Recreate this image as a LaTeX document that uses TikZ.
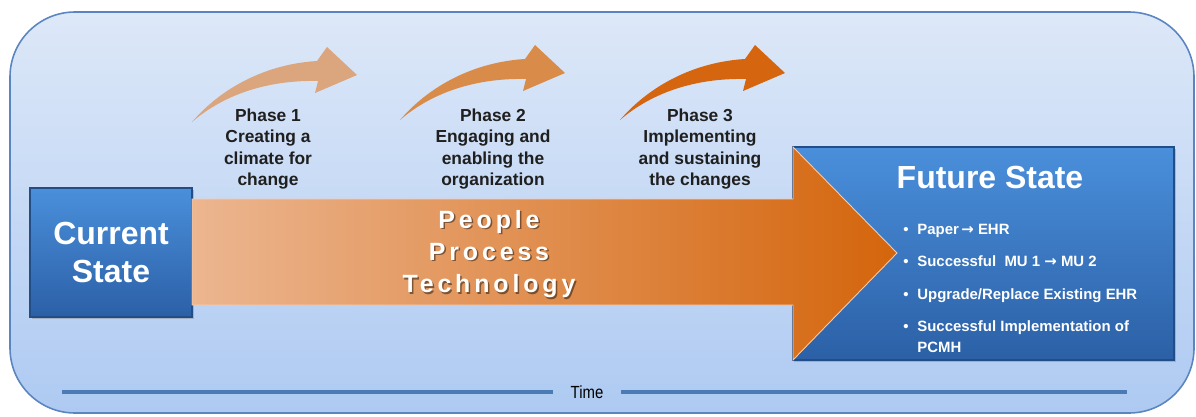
\documentclass[tikz,border=0pt]{standalone}
\usepackage{fontspec}
\setmainfont{Liberation Sans}
\newfontfamily\arrowfont{DejaVu Sans}
\usetikzlibrary{shadows}
\definecolor{bgtop}{HTML}{DDE8F8}
\definecolor{bgbottom}{HTML}{AECAF2}
\definecolor{bgline}{HTML}{5A85C0}
\definecolor{boxtop}{HTML}{4A8FDB}
\definecolor{boxbottom}{HTML}{2B60A6}
\definecolor{arrowleft}{HTML}{ECB690}
\definecolor{arrowright}{HTML}{D4650C}
\definecolor{phaseA}{HTML}{DBA57D}
\definecolor{phaseB}{HTML}{D98C4A}
\definecolor{phaseC}{HTML}{D5660F}
\definecolor{timeline}{HTML}{4C7AB4}
\tikzstyle{state} = [draw=boxbottom!80!black, line width=0.6, inner sep=0,
    top color=boxtop, bottom color=boxbottom, 
    drop shadow={opacity=.4, shadow xshift=1pt, shadow yshift=-1.2pt}]
\tikzstyle{statetext} = [text=white, align=center, inner sep=0,
    font=\bfseries\fontsize{18.2}{21.5}\selectfont]
\tikzstyle{phase} = [text=black!88, align=center, inner sep=0,
    font=\bfseries\fontsize{9.9}{12.2}\selectfont]
\tikzstyle{goals} = [text=white, anchor=base west, inner sep=0,
    font=\bfseries\fontsize{8.5}{11.9}\selectfont]
\tikzstyle{ppt} = [align=center, inner sep=0,
    font=\bfseries\addfontfeature{LetterSpace=15.5}\fontsize{14.2}{18.4}\selectfont]
% bold arrow between goals
\newcommand{\goalarrow}{{\arrowfont\bfseries →}}
% curved phase arrow, #1,#2 = tail point, #3 = colour
\newcommand{\phasearrow}[3]{%
  \begin{scope}[shift={(#1,#2)}]
    \fill[#3] (0,0) .. controls (30,-35) and (75,-58) .. (125,-61)
      -- (135,-75) -- (165,-47) -- (123,-29) -- (126,-41)
      .. controls (80,-42) and (35,-30) .. (0,0) -- cycle;
  \end{scope}}

\begin{document}
\begin{tikzpicture}[x=0.02cm, y=-0.02cm]
    \useasboundingbox (0,0) rectangle (1196,416);

    % 1. Background panel
    \draw[bgline, line width=0.9, rounded corners=1.3cm, top color=bgtop, bottom color=bgbottom]
        (10,12) rectangle (1194,413);

    % 2. Phase arrows and their texts
    \phasearrow{192}{122}{phaseA}
    \phasearrow{400}{120}{phaseB}
    \phasearrow{620}{120}{phaseC}
    \node[phase] (phaseone) at (268,149) {Phase 1\\Creating a\\climate for\\change};
    \node[phase] (phasetwo) at (493,149) {Phase 2\\Engaging and\\enabling the\\organization};
    \node[phase] (phasethree) at (700,149) {Phase 3\\Implementing\\and sustaining\\the changes};

    % 3. States
    \node[state, minimum width=3.24cm, minimum height=2.58cm] (current) at (111,252.5) {};
    \node[statetext] (currenttext) at (current.center) {Current\\State};
    \node[state, minimum width=7.64cm, minimum height=4.26cm] (future) at (983,253.5) {};
    \node[statetext] (futuretext) at (990,177) {Future State};
    \node[goals] (goallist) at (903,234.5) {\begin{tabular}[t]{@{}l@{\hspace{5pt}}l@{}}
        \textbullet & Paper\,\goalarrow\ EHR \\[6.5pt]
        \textbullet & Successful\ \ MU 1 \goalarrow\ MU 2 \\[6.5pt]
        \textbullet & Upgrade/Replace Existing EHR \\[6.5pt]
        \textbullet & Successful Implementation of \\
                    & PCMH
        \end{tabular}};

    % 4. Big arrow (x = time, drawn over the future box edge)
    \draw[line width=0.5, draw=arrowleft!70!white, left color=arrowleft, right color=arrowright]
        (192,199) -- (793,199) -- (793,147) -- (897,253) -- (793,360) -- (793,305) -- (192,305) -- cycle;
    \node[ppt, text=black, opacity=.45] (pptshadow) at (490.5,255.5) {People\\Process\\Technology};
    \node[ppt, text=white] (pptlabel) at (489,254) {People\\Process\\Technology};

    % 5. Time axis
    \node[inner ysep=0, inner xsep=10pt, font=\fontsize{10}{12}\selectfont] (time) at (587,392) {\scalebox{.85}[1]{Time}};
    \coordinate (tstart) at (62,392);
    \coordinate (tend) at (1127,392);
    \draw[timeline, line width=2.2] (tstart) -- (time.west);
    \draw[timeline, line width=2.2] (time.east) -- (tend);

\end{tikzpicture}
\end{document}
